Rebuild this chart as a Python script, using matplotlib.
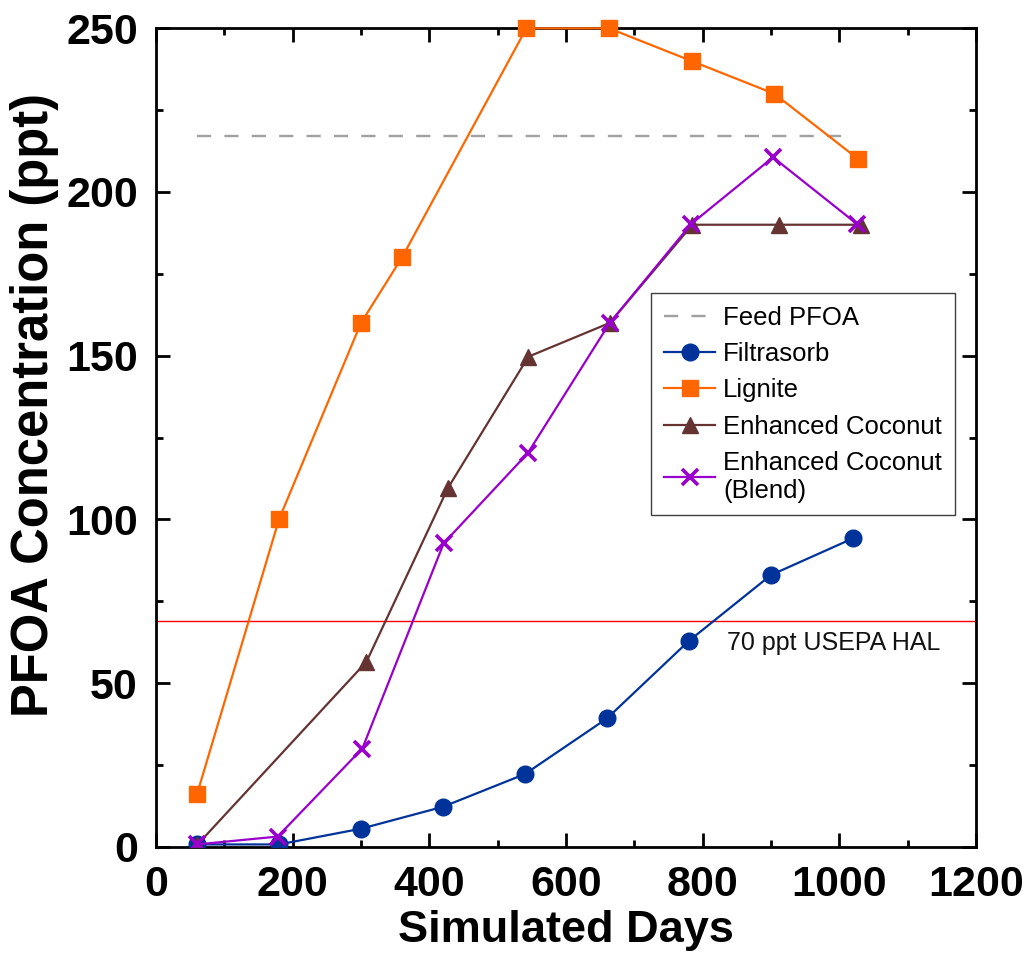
import matplotlib
matplotlib.use("Agg")
import matplotlib.pyplot as plt
from matplotlib.ticker import MultipleLocator

plt.rcParams['font.family'] = ['Liberation Sans', 'DejaVu Sans']

# Data
filtrasorb_days = [60, 180, 300, 420, 540, 660, 780, 900, 1020]
filtrasorb_ppt = [0.7, 0.7, 5.5, 12.2, 22.2, 39.2, 62.9, 83, 94.2]

lignite_days = [60, 180, 300, 360, 542, 663, 784, 905, 1028]
lignite_ppt = [16, 100, 160, 180, 250, 250, 240, 230, 210]

coconut_days = [60, 308, 427, 545, 664, 785, 912, 1031]
coconut_ppt = [0.5, 56.5, 109.5, 149.7, 160, 190, 190, 190]

blend_days = [60, 178, 302, 421, 544, 664, 783, 903, 1026]
blend_ppt = [0.7, 3.1, 30, 92.7, 120.2, 160, 190.2, 210.6, 190.2]

feed_days = [60, 1020]
feed_ppt = [217, 217]

hal_ppt = 69
hal_label = "70 ppt USEPA HAL"

fig = plt.figure(figsize=(10.29, 9.6), dpi=100)
ax = fig.add_axes([0.1516, 0.118, 0.7969, 0.8525])

ax.plot(feed_days, feed_ppt, color='#A0A0A0', lw=1.7, dashes=(6, 5.6), label='Feed PFOA', zorder=2)
ax.axhline(hal_ppt, color='#FF0000', lw=1.0, zorder=1)
ax.plot(filtrasorb_days, filtrasorb_ppt, color='#003399', lw=1.6, marker='o', ms=12, label='Filtrasorb', zorder=3)
ax.plot(lignite_days, lignite_ppt, color='#FF6600', lw=1.6, marker='s', ms=11.5, label='Lignite', zorder=4, clip_on=False)
ax.plot(coconut_days, coconut_ppt, color='#663333', lw=1.6, marker='^', ms=11.5, label='Enhanced Coconut', zorder=5)
ax.plot(blend_days, blend_ppt, color='#9900CC', lw=1.6, marker='x', ms=11, mew=2.6, label='Enhanced Coconut\n(Blend)', zorder=6)

ax.text(836, 62.2, hal_label, fontsize=18, va='center', ha='left', color='#111111')

ax.set_xlim(0, 1200)
ax.set_ylim(0, 250)
ax.xaxis.set_major_locator(MultipleLocator(200))
ax.xaxis.set_minor_locator(MultipleLocator(100))
ax.yaxis.set_major_locator(MultipleLocator(50))
ax.yaxis.set_minor_locator(MultipleLocator(25))
ax.tick_params(which='both', direction='in', top=True, right=True, width=2)
ax.tick_params(which='major', length=10, labelsize=31, pad=13)
ax.tick_params(which='minor', length=5)
for lab in ax.get_xticklabels() + ax.get_yticklabels():
    lab.set_fontweight('bold')
for s in ax.spines.values():
    s.set_linewidth(2)

ax.set_xlabel('Simulated Days', fontsize=32.5, fontweight='bold', labelpad=4)
ax.set_ylabel('PFOA Concentration (ppt)', fontsize=36.5, fontweight='bold')
ax.yaxis.set_label_coords(-0.118, 0.54)

leg = ax.legend(loc='upper left', bbox_to_anchor=(0.6037, 0.677), fontsize=18.5,
                frameon=True, fancybox=False, framealpha=1, edgecolor='#404040',
                handlelength=2.0, handletextpad=0.3, labelspacing=0.48, borderpad=0.5,
                borderaxespad=0)
leg.get_frame().set_linewidth(1.0)
leg.set_zorder(10)

fig.savefig('out.png', dpi=100)
